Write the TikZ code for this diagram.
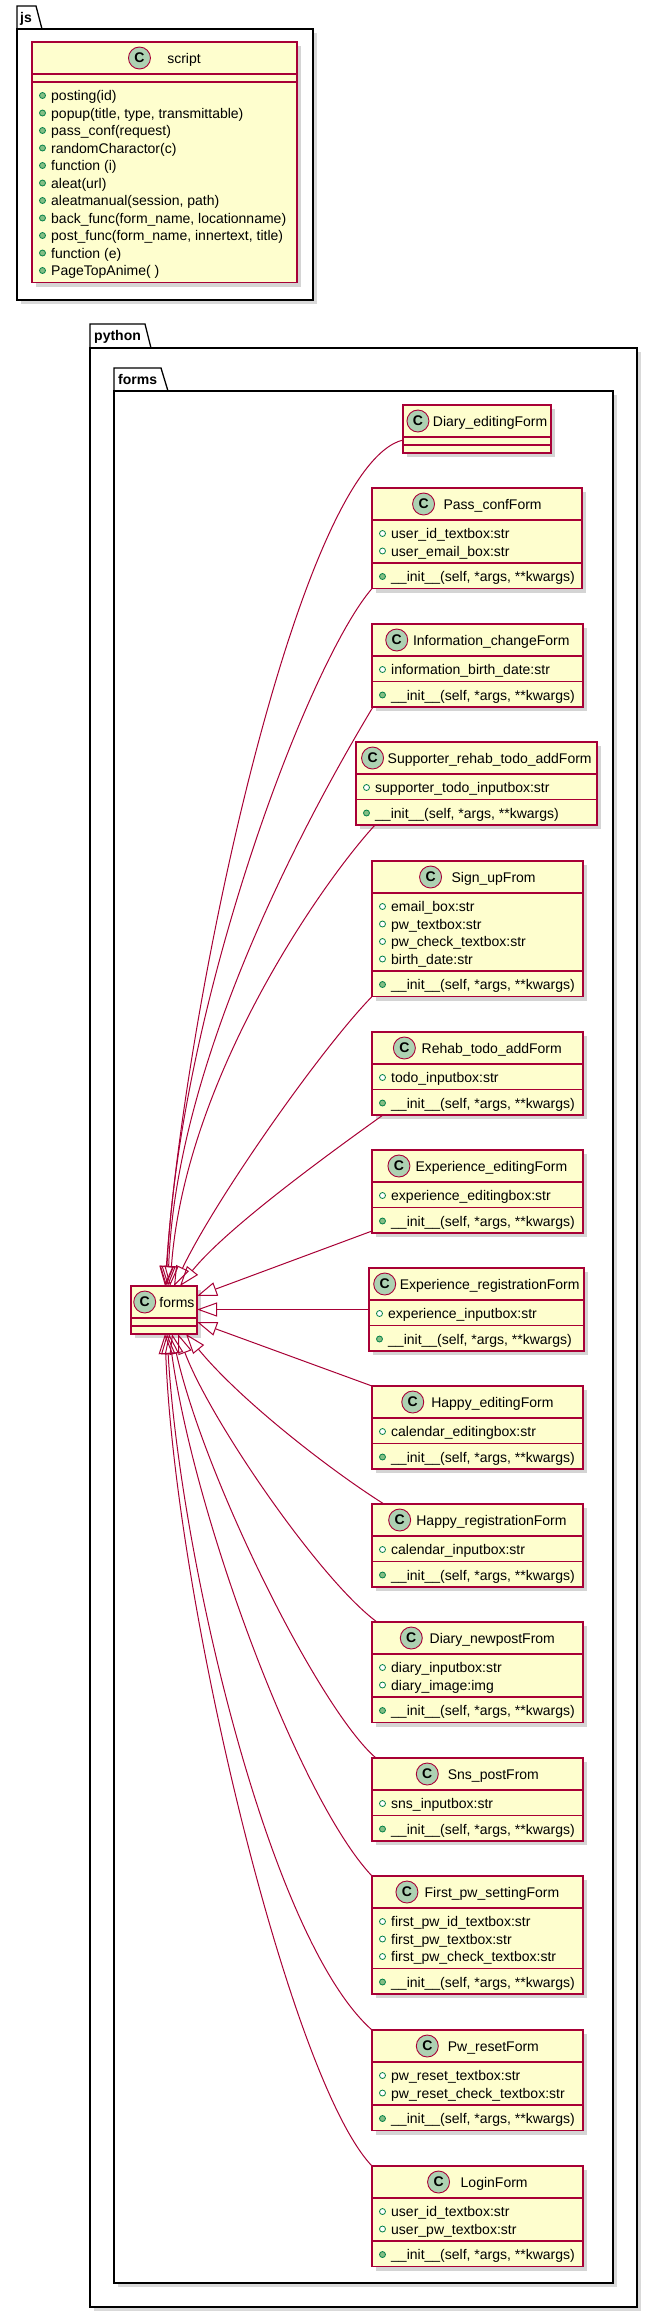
\documentclass[tikz,border=0pt]{standalone}
\usepackage{fontspec}
\setmainfont{Liberation Sans}
\usetikzlibrary{arrows.meta}
\definecolor{umlred}{HTML}{A80036}
\definecolor{umlfill}{HTML}{FEFECE}
\definecolor{umlicon}{HTML}{ADD1B2}
\definecolor{umlgreen}{HTML}{038048}
\definecolor{umlgreenf}{HTML}{84BE84}
\newlength\clsw
\newsavebox\clsbx
\newcommand\clsfont{\fontsize{14}{16}\selectfont}
\tikzset{
  clsbox/.style={draw=umlred, fill=umlfill, line width=1.1pt, inner sep=0pt, outer sep=0pt},
  clsline/.style={draw=umlred, line width=1.1pt},
  clsshadow/.style={fill=black!17},
  iconc/.style={circle, draw=umlred, fill=umlicon, line width=0.9pt, minimum size=22pt, inner sep=0pt, font=\bfseries\fontsize{14}{14}\selectfont},
  clstext/.style={inner sep=0pt, anchor=base west, font=\clsfont},
  fieldmk/.style={draw=umlgreen, line width=0.8pt, fill=white},
  methmk/.style={draw=umlgreen, line width=0.8pt, fill=umlgreenf},
  pkgline/.style={draw=black, line width=1.3pt, fill=white},
  pkgshadow/.style={fill=black!15},
  pkglabel/.style={inner sep=0pt, anchor=base west, font=\bfseries\fontsize{14}{16}\selectfont},
  inh/.style={draw=umlred, line width=1pt, -{Triangle[open, length=20pt, width=14pt]}},
}
% #1 id, #2 left, #3 top, #4 width, #5 nattr, #6 nmeth, #7 title, #8 attrs, #9 methods
\newcommand{\umlclass}[9]{%
  \pgfmathsetmacro\hA{8+17.5*#5}%
  \pgfmathsetmacro\hM{8+17.5*#6}%
  \pgfmathsetmacro\hT{32+\hA+\hM}%
  \fill[clsshadow] (#2+4,#3+4) rectangle ++(#4,\hT);%
  \node[clsbox, minimum width=#4pt, minimum height=\hT pt, anchor=north west] (#1) at (#2,#3) {};%
  \draw[clsline] (#2,#3+32) -- ++(#4,0);%
  \draw[clsline] (#2,#3+32+\hA) -- ++(#4,0);%
  \pgfinterruptpicture\sbox\clsbx{\clsfont #7}\global\clsw=\wd\clsbx\endpgfinterruptpicture
  \pgfmathsetmacro\gapw{3+0.065*(#4-22-\clsw)}%
  \pgfmathsetmacro\startx{#2+#4/2-(22+\gapw+\clsw)/2}%
  \node[iconc] (#1-icon) at (\startx+11,#3+16) {C};%
  \node[clstext] (#1-title) at (\startx+22+\gapw,#3+21) {#7};%
  \ifnum#5>0
  \foreach \itm [count=\i from 0] in {#8} {%
    \draw[fieldmk] (#2+10.5,#3+45.5+17.5*\i) circle (3pt);%
    \node[clstext] at (#2+19,#3+50.5+17.5*\i) {\itm};%
  }\fi
  \ifnum#6>0
  \foreach \itm [count=\i from 0] in {#9} {%
    \draw[methmk] (#2+10.5,#3+45.5+\hA+17.5*\i) circle (3pt);%
    \node[clstext] at (#2+19,#3+50.5+\hA+17.5*\i) {\itm};%
  }\fi
}
\begin{document}
\begin{tikzpicture}[x=1pt,y=-1pt]
\useasboundingbox (0,0) rectangle (653,2313);
\fill[white] (0,0) rectangle (653,2313);

% ---------- package js ----------
\fill[pkgshadow] (21,33) rectangle (317,304);
\draw[pkgline] (17,29) -- (17,6) -- (36,6) -- (42,29);
\draw[pkgline] (17,29) rectangle (313,300);
\node[pkglabel] (jsLabel) at (20,22.5) {js};

\umlclass{script}{32}{42}{265}{0}{11}{script}{}{posting(id),{popup(title, type, transmittable)},pass\_conf(request),randomCharactor(c),function (i),aleat(url),{aleatmanual(session, path)},{back\_func(form\_name, locationname)},{post\_func(form\_name, innertext, title)},function (e),PageTopAnime( )}

% ---------- package python ----------
\fill[pkgshadow] (94,352) rectangle (641,2311);
\draw[pkgline] (90,348) -- (90,324) -- (145,324) -- (151,348);
\draw[pkgline] (90,348) rectangle (637,2307);
\node[pkglabel] (pyLabel) at (94,340.5) {python};

% ---------- package forms ----------
\fill[pkgshadow] (118,395) rectangle (617,2287);
\draw[pkgline] (114,391) -- (114,368) -- (161,368) -- (168,391);
\draw[pkgline] (114,391) rectangle (613,2283);
\node[pkglabel] (formsLabel) at (118,384.5) {forms};

% ---------- classes ----------
\umlclass{forms}{131}{1286}{66}{0}{0}{forms}{}{}
\umlclass{dEdit}{403}{405}{148}{0}{0}{Diary\_editingForm}{}{}
\umlclass{pass}{372}{488}{210}{2}{1}{Pass\_confForm}{user\_id\_textbox:str,user\_email\_box:str}{{\_\_init\_\_(self, *args, **kwargs)}}
\umlclass{info}{372}{624}{211}{1}{1}{Information\_changeForm}{information\_birth\_date:str}{{\_\_init\_\_(self, *args, **kwargs)}}
\umlclass{supp}{356}{742}{241}{1}{1}{Supporter\_rehab\_todo\_addForm}{supporter\_todo\_inputbox:str}{{\_\_init\_\_(self, *args, **kwargs)}}
\umlclass{sign}{372}{861}{211}{4}{1}{Sign\_upFrom}{email\_box:str,pw\_textbox:str,pw\_check\_textbox:str,birth\_date:str}{{\_\_init\_\_(self, *args, **kwargs)}}
\umlclass{rehab}{372}{1032}{211}{1}{1}{Rehab\_todo\_addForm}{todo\_inputbox:str}{{\_\_init\_\_(self, *args, **kwargs)}}
\umlclass{expE}{372}{1150}{211}{1}{1}{Experience\_editingForm}{experience\_editingbox:str}{{\_\_init\_\_(self, *args, **kwargs)}}
\umlclass{expR}{369}{1268}{215}{1}{1}{Experience\_registrationForm}{experience\_inputbox:str}{{\_\_init\_\_(self, *args, **kwargs)}}
\umlclass{hapE}{372}{1386}{211}{1}{1}{Happy\_editingForm}{calendar\_editingbox:str}{{\_\_init\_\_(self, *args, **kwargs)}}
\umlclass{hapR}{372}{1504}{211}{1}{1}{Happy\_registrationForm}{calendar\_inputbox:str}{{\_\_init\_\_(self, *args, **kwargs)}}
\umlclass{dNew}{372}{1622}{211}{2}{1}{Diary\_newpostFrom}{diary\_inputbox:str,diary\_image:img}{{\_\_init\_\_(self, *args, **kwargs)}}
\umlclass{sns}{372}{1758}{211}{1}{1}{Sns\_postFrom}{sns\_inputbox:str}{{\_\_init\_\_(self, *args, **kwargs)}}
\umlclass{first}{372}{1876}{211}{3}{1}{First\_pw\_settingForm}{first\_pw\_id\_textbox:str,first\_pw\_textbox:str,first\_pw\_check\_textbox:str}{{\_\_init\_\_(self, *args, **kwargs)}}
\umlclass{pwr}{372}{2030}{211}{2}{1}{Pw\_resetForm}{pw\_reset\_textbox:str,pw\_reset\_check\_textbox:str}{{\_\_init\_\_(self, *args, **kwargs)}}
\umlclass{login}{372}{2166}{211}{2}{1}{LoginForm}{user\_id\_textbox:str,user\_pw\_textbox:str}{{\_\_init\_\_(self, *args, **kwargs)}}

% ---------- inheritance edges ----------
\draw[inh] ([shift={(0,11)}]dEdit.west) .. controls (300,465) and (185,1000) .. ([shift={(1,0)}]forms.north);
\draw[inh] (pass.south west) .. controls (310,660) and (180,1000) .. ([shift={(2,0)}]forms.north);
\draw[inh] ([shift={(1,0)}]info.south west) .. controls (283,857) and (175,1080) .. ([shift={(4,0)}]forms.north);
\draw[inh] ([shift={(19,0)}]supp.south west) .. controls (320,885) and (185,1080) .. ([shift={(6,0)}]forms.north);
\draw[inh] (sign.south west) .. controls (320,1050) and (215,1200) .. ([shift={(10,0)}]forms.north);
\draw[inh] ([shift={(11,0)}]rehab.south west) .. controls (320,1160) and (225,1230) .. ([shift={(16,0)}]forms.north);
\draw[inh] ([shift={(0,-2)}]expE.south west) -- ([shift={(0,-14)}]forms.east);
\draw[inh] (expR.west) -- (expR.west -| forms.east);
\draw[inh] (hapE.north west) -- ([shift={(0,12)}]forms.east);
\draw[inh] ([shift={(12,0)}]hapR.north west) .. controls (330,1470) and (240,1400) .. ([shift={(22,0)}]forms.south);
\draw[inh] ([shift={(5,0)}]dNew.north west) .. controls (320,1580) and (210,1420) .. ([shift={(14,0)}]forms.south);
\draw[inh] ([shift={(4,0)}]sns.north west) .. controls (320,1710) and (205,1480) .. ([shift={(8,0)}]forms.south);
\draw[inh] (first.north west) .. controls (300,1800) and (195,1520) .. ([shift={(5,0)}]forms.south);
\draw[inh] (pwr.north west) .. controls (270,1940) and (180,1560) .. ([shift={(3,0)}]forms.south);
\draw[inh] (login.north west) .. controls (290,2080) and (175,1600) .. ([shift={(1,0)}]forms.south);
\end{tikzpicture}
\end{document}
